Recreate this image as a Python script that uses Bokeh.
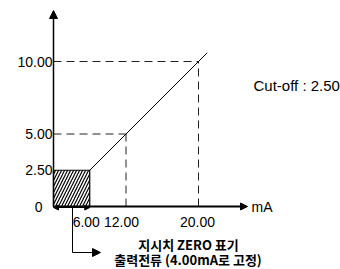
from bokeh.plotting import figure
from bokeh.models import Range1d, Arrow, NormalHead, ColumnDataSource
from bokeh.core.properties import value
from bokeh.embed import file_html
from bokeh.resources import INLINE

# ---- data ----
cutoff = 2.5
out_values = [2.5, 5.0, 10.0]          # output (display) values
ma_labels = ["6.00", "12.00", "20.00"]  # input current labels (mA)
y_ticks = [0, 2.5, 5.0, 10.0]
y_labels = ["0", "2.50", "5.00", "10.00"]
line_x = [2.5, 5.0, 10.0, 10.6]
line_y = [2.5, 5.0, 10.0, 10.6]
cutoff_text = "Cut-off : 2.50"
note_line1 = "지시치 ZERO 표기"
note_line2 = "출력전류 (4.00mA로 고정)"
unit_label = "mA"

# ---- layout ----
S = 14.5  # px per unit
W, H = 340, 269
p = figure(width=W, height=H, output_backend="svg", toolbar_location=None,
           x_axis_type=None, y_axis_type=None, min_border=0,
           x_range=Range1d(-53 / S, 287 / S), y_range=Range1d(-63 / S, 206 / S))
p.outline_line_color = None
p.xgrid.visible = False
p.ygrid.visible = False

FONT = value("Liberation Sans")
KFONT = value("Noto Sans CJK KR")
DASH = "8 5"

# dashed guide lines
p.segment(x0=[0] * 2, y0=out_values[1:], x1=out_values[1:], y1=out_values[1:],
          line_color="#222222", line_width=1, line_dash=DASH)
p.segment(x0=out_values[1:], y0=[0] * 2, x1=out_values[1:], y1=out_values[1:],
          line_color="#222222", line_width=1, line_dash=DASH)

# hatched cut-off region
p.quad(left=[0], right=[cutoff], bottom=[0], top=[cutoff], fill_color=None,
       hatch_pattern="/", hatch_color="black", hatch_scale=6, hatch_weight=1.2,
       line_color="black", line_width=1.2)

# characteristic line
p.line(line_x, line_y, line_color="black", line_width=1)

# axes with arrows
p.add_layout(Arrow(x_start=0, y_start=0, x_end=0, y_end=196 / S, line_width=1.5,
                   end=NormalHead(size=8, fill_color="black", line_color="black")))
p.add_layout(Arrow(x_start=0, y_start=0, x_end=194 / S, y_end=0, line_width=2,
                   end=NormalHead(size=7, fill_color="black", line_color="black")))

# double arrow 0..cutoff
p.add_layout(Arrow(x_start=0, y_start=-0.07, x_end=cutoff, y_end=-0.07, line_width=1,
                   start=NormalHead(size=5, fill_color="black", line_color="black"),
                   end=NormalHead(size=5, fill_color="black", line_color="black")))

# elbow pointer
ex = 19 / S
ey = -46 / S
p.line([ex, ex], [0, ey], line_color="black", line_width=1)
p.add_layout(Arrow(x_start=ex, y_start=ey, x_end=47 / S, y_end=ey, line_width=1,
                   end=NormalHead(size=8, fill_color="black", line_color="black")))

# y tick labels
ysrc = ColumnDataSource(dict(x=[0] * 4, y=y_ticks, t=y_labels, xo=[-11, -1, -1, -1]))
p.text(x="x", y="y", text="t", x_offset="xo", source=ysrc, text_align="right",
       text_baseline="middle", text_font=FONT, text_font_size="14px", text_color="black")

# x tick labels
xsrc = ColumnDataSource(dict(x=out_values, y=[0] * 3, t=ma_labels, xo=[-3.5, -4.5, -1]))
p.text(x="x", y="y", text="t", x_offset="xo", y_offset=15, source=xsrc, text_align="center",
       text_baseline="middle", text_font=FONT, text_font_size="14px", text_color="black")

# unit label
p.text(x=[194 / S], y=[0], text=[unit_label], x_offset=4, text_align="left",
       text_baseline="middle", text_font=FONT, text_font_size="14px", text_color="black")

# cut-off label
p.text(x=[200 / S], y=[121 / S], text=[cutoff_text], text_align="left",
       text_baseline="middle", text_font=FONT, text_font_size="15px", text_color="black")

# notes
p.text(x=[135 / S, 134.5 / S], y=[-38 / S, -53 / S], text=[note_line1, note_line2],
       text_align="center", text_baseline="middle", text_font=KFONT,
       text_font_size="13px", text_font_style="bold", text_color="black")

open("out.html", "w").write(file_html(p, INLINE))
